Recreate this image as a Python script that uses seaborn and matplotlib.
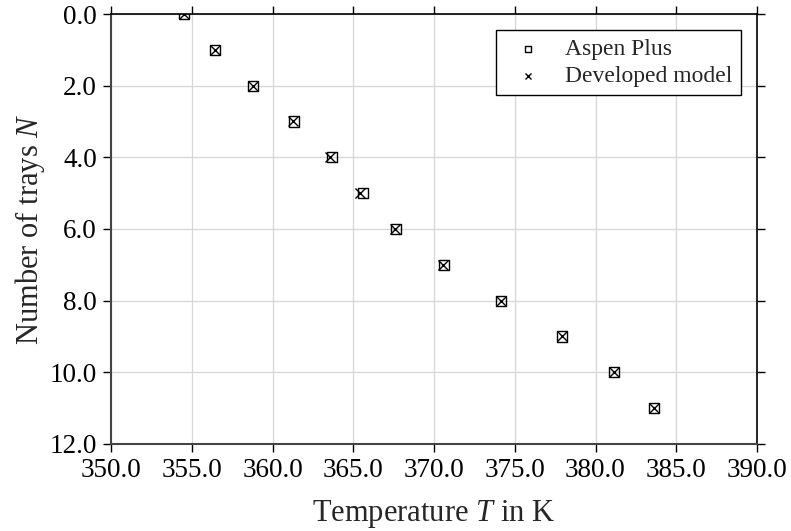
import matplotlib
matplotlib.use("Agg")
import matplotlib.pyplot as plt
import matplotlib.ticker as mticker
import seaborn as sns
import pandas as pd

# Tray temperature profile of the column
trays = [0, 1, 2, 3, 4, 5, 6, 7, 8, 9, 10, 11]
temp_aspen = [354.5, 356.45, 358.8, 361.35, 363.7, 365.6, 367.65, 370.6, 374.15, 377.9, 381.15, 383.6]
temp_model = [354.5, 356.45, 358.8, 361.25, 363.55, 365.4, 367.6, 370.55, 374.15, 377.9, 381.15, 383.6]
x_ticks = [350, 355, 360, 365, 370, 375, 380, 385, 390]
y_ticks = [0, 2, 4, 6, 8, 10, 12]

sns.set_style("ticks")
plt.rcParams["font.family"] = ["Liberation Serif", "DejaVu Serif"]
plt.rcParams["mathtext.fontset"] = "custom"
plt.rcParams["mathtext.rm"] = "Liberation Serif"
plt.rcParams["mathtext.it"] = "Liberation Serif:italic"

df = pd.DataFrame({"tray": trays, "aspen": temp_aspen, "model": temp_model})

fig = plt.figure(figsize=(7.91, 5.31), dpi=100)
ax = fig.add_axes([111 / 791, 1 - 444 / 531, (757 - 111) / 791, (444 - 14) / 531])

sns.scatterplot(data=df, x="aspen", y="tray", marker="s", s=52,
                facecolors="none", edgecolors="black", linewidths=1.0,
                label="Aspen Plus", ax=ax, zorder=3)
sns.scatterplot(data=df, x="model", y="tray", marker="x", s=52,
                color="black", linewidths=1.0,
                label="Developed model", ax=ax, zorder=4)

ax.set_xlim(x_ticks[0], x_ticks[-1])
ax.set_ylim(y_ticks[-1], y_ticks[0])
ax.set_xticks(x_ticks)
ax.set_yticks(y_ticks)
ax.xaxis.set_major_formatter(mticker.FormatStrFormatter("%.1f"))
ax.yaxis.set_major_formatter(mticker.FormatStrFormatter("%.1f"))

ax.grid(True, color="#d6d6d6", linewidth=0.9)
ax.set_axisbelow(True)
ax.tick_params(axis="both", which="major", direction="out", length=6, width=1.0,
               colors="black", labelsize=19.5, top=True, right=True,
               labeltop=False, labelright=False, pad=4)
for sp in ax.spines.values():
    sp.set_visible(True)
    sp.set_color("black")
    sp.set_linewidth(1.2)
for side in ("left", "bottom"):
    ax.spines[side].set_color("#444444")
    ax.spines[side].set_linewidth(1.5)

ax.set_xlabel("Temperature $T$ in K", fontsize=22, labelpad=11)
ax.set_ylabel("Number of trays $N$", fontsize=22, labelpad=2)

leg = ax.legend(loc="upper right", bbox_to_anchor=(741 / 791, 1 - 30 / 531),
                bbox_transform=fig.transFigure, fontsize=17, frameon=True,
                fancybox=False, edgecolor="black", framealpha=1, markerscale=0.6,
                borderpad=0.35, handletextpad=0.6, labelspacing=0.25,
                handlelength=2.0, borderaxespad=0)
leg.get_frame().set_linewidth(1.0)

fig.savefig("out.png", dpi=100)
